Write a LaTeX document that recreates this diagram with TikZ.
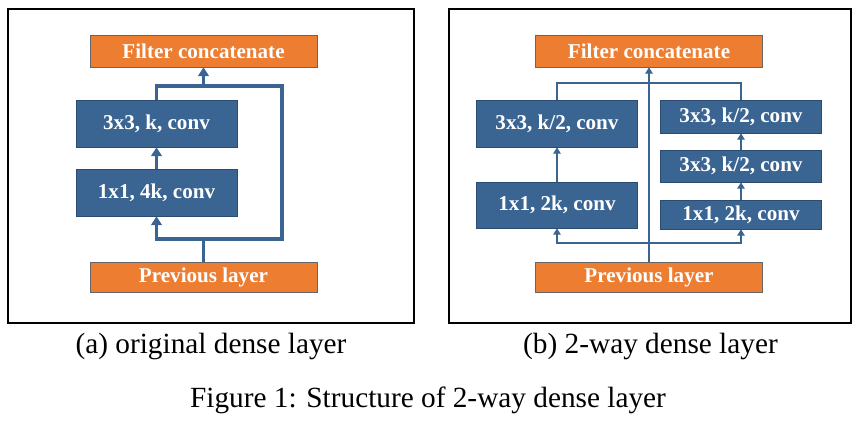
\documentclass[tikz,border=0pt]{standalone}
\usepackage{fontspec}
\setmainfont{Liberation Serif}
\usetikzlibrary{arrows.meta,shadows}
\definecolor{blk}{HTML}{3A6491}
\definecolor{blkline}{HTML}{2B4B70}
\definecolor{org}{HTML}{ED7D31}
\tikzset{
  box/.style={draw=blkline,line width=0.5pt,fill=blk,text=white,inner sep=0pt,
    font=\bfseries\fontsize{18}{20}\selectfont,
    drop shadow={shadow xshift=0.8pt,shadow yshift=-1pt,opacity=0.3}},
  convbox/.style={box,minimum width=4.83cm},
  endbox/.style={box,fill=org,draw=black!60,minimum width=6.8cm},
  thickline/.style={draw=blk,line width=2.6pt,line join=miter},
  thinline/.style={draw=blk,line width=0.9pt},
  thickarrow/.style={thickline,-{Triangle[width=9pt,length=7.5pt]}},
  thinarrow/.style={thinline,-{Triangle[width=6.5pt,length=5.5pt]}},
  caption/.style={anchor=base,font=\fontsize{25}{30}\selectfont}
}
\begin{document}
\begin{tikzpicture}[x=0.03cm,y=-0.03cm]
        \useasboundingbox (0,0) rectangle (857,422);
        \draw[line width=0.9pt] (8,9) rectangle (414,323);
        \draw[line width=0.9pt] (449,9) rectangle (851,323);
        % (a)
        \node[endbox,minimum height=0.96cm] (cat) at (203.5,51) {Filter concatenate};
        \node[convbox,minimum height=1.41cm] (c3) at (156.5,123.5) {3x3, k, conv};
        \node[convbox,minimum height=1.41cm] (c1) at (156.5,192.5) {1x1, 4k, conv};
        \node[endbox,minimum height=0.9cm] (prev) at (203.5,277) {Previous layer};
        \coordinate (jb) at (282,239);
        \coordinate (jt) at (282,86);
        \draw[thickline] (prev.north) |- (jb) -- (jt) -| (c3.north);
        \draw[thickarrow] (prev.north |- jb) -| (c1.south);
        \draw[thickarrow] (c1.north) -- (c3.south);
        \draw[thickarrow] (cat.south |- jt) -- (cat.south);
        % (b)
        \node[endbox,minimum height=0.96cm] (cat2) at (649,51) {Filter concatenate};
        \node[convbox,minimum height=1.41cm] (a3) at (557,123.5) {3x3, k/2, conv};
        \node[convbox,minimum height=1.38cm] (a1) at (557,205) {1x1, 2k, conv};
        \node[convbox,minimum height=0.99cm] (b3t) at (741,116.5) {3x3, k/2, conv};
        \node[convbox,minimum height=0.96cm] (b3m) at (741,166) {3x3, k/2, conv};
        \node[convbox,minimum height=0.87cm] (b1) at (741,214.5) {1x1, 2k, conv};
        \node[endbox,minimum height=0.9cm] (prev2) at (649,277) {Previous layer};
        \coordinate (rb) at (649,243);
        \coordinate (rt) at (649,83);
        \draw[thinarrow] (prev2.north) -- (cat2.south);
        \draw[thinarrow] (rb) -| (a1.south);
        \draw[thinarrow] (rb) -| (b1.south);
        \draw[thinline] (a3.north) |- (rt) -| (b3t.north);
        \draw[thinarrow] (a1.north) -- (a3.south);
        \draw[thinarrow] (b1.north) -- (b3m.south);
        \draw[thinarrow] (b3m.north) -- (b3t.south);
        % captions
        \node[caption] (capa) at (211,353) {(a) original dense layer};
        \node[caption] (capb) at (650.5,353) {(b) 2-way dense layer};
        \node[caption] (fig) at (428,407) {Figure 1: Structure of 2-way dense layer};
\end{tikzpicture}
\end{document}
